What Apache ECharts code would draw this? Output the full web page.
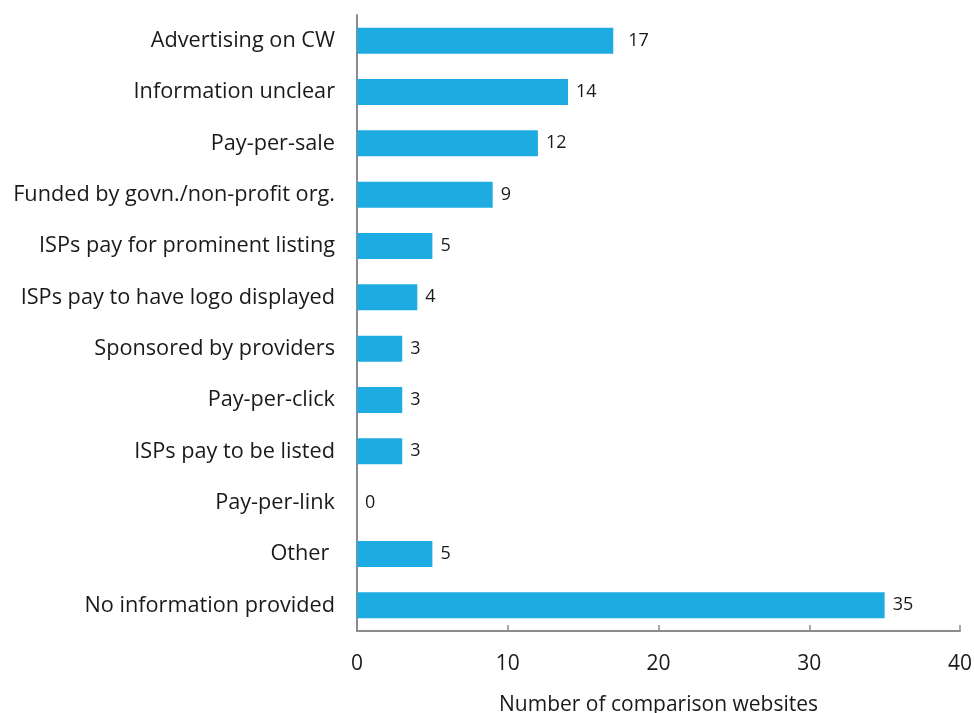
<!DOCTYPE html>
<html>
<head>
<meta charset="utf-8">
<script src="https://cdn.jsdelivr.net/npm/echarts@6/dist/echarts.min.js"></script>
<style>
  html, body { margin: 0; padding: 0; background: #fff; }
  #chart { width: 974px; height: 713px; }
</style>
</head>
<body>
<div id="chart"></div>
<script>
// Funding models of comparison websites
const categories = [
  'Advertising on CW',
  'Information unclear',
  'Pay-per-sale',
  'Funded by govn./non-profit org.',
  'ISPs pay for prominent listing',
  'ISPs pay to have logo displayed',
  'Sponsored by providers',
  'Pay-per-click',
  'ISPs pay to be listed',
  'Pay-per-link',
  'Other ',
  'No information provided'
];
const counts = [17, 14, 12, 9, 5, 4, 3, 3, 3, 0, 5, 35];
const xTicks = [0, 10, 20, 30, 40];
const xTitle = 'Number of comparison websites';

const FONT = '"Open Sans", sans-serif';
const AXIS_GREY = '#8c8c8c';

const chart = echarts.init(document.getElementById('chart'), null, { renderer: 'canvas' });

chart.setOption({
  animation: false,
  grid: { left: 357, right: 14, top: 15, bottom: 82, containLabel: false, outerBoundsMode: 'none' },
  xAxis: {
    type: 'value',
    min: xTicks[0],
    max: xTicks[xTicks.length - 1],
    interval: xTicks[1] - xTicks[0],
    name: xTitle,
    nameLocation: 'middle',
    nameGap: 64,
    nameTextStyle: { fontFamily: FONT, fontSize: 21, color: '#1a1a1a' },
    axisLine: { show: true, lineStyle: { color: AXIS_GREY, width: 2 } },
    axisTick: { show: true, inside: true, length: 6, lineStyle: { color: AXIS_GREY, width: 1.5 } },
    axisLabel: { margin: 23, fontFamily: FONT, fontSize: 21, color: '#1a1a1a' },
    splitLine: { show: false }
  },
  yAxis: {
    type: 'category',
    inverse: true,
    data: categories,
    axisLine: { show: true, lineStyle: { color: AXIS_GREY, width: 2 } },
    axisTick: { show: false },
    axisLabel: { margin: 22, fontFamily: FONT, fontSize: 21.7, color: '#1a1a1a' }
  },
  series: [{
    type: 'bar',
    data: counts.map((v, i) => i === 0
      ? { value: v, label: { distance: 15 } }
      : v),
    barWidth: 26,
    itemStyle: { color: '#1dabe2' },
    label: {
      show: true,
      position: 'right',
      distance: 8,
      fontFamily: FONT,
      fontSize: 18,
      color: '#1a1a1a'
    }
  }]
});
</script>
</body>
</html>
